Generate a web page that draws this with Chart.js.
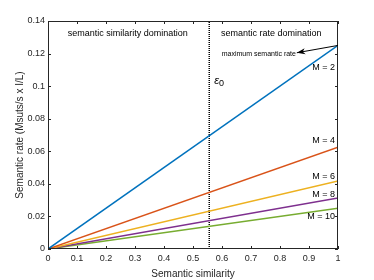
<!DOCTYPE html>
<html>
<head>
<meta charset="utf-8">
<script src="https://cdn.jsdelivr.net/npm/chart.js@4"></script>
<style>
  html, body { margin: 0; padding: 0; background: #fff; }
  #wrap { width: 374px; height: 280px; }
</style>
</head>
<body>
<div id="wrap"><canvas id="rateChart"></canvas></div>
<script>
// data
const similarity = [0, 1];
const seriesLabels = ['M = 2', 'M = 4', 'M = 6', 'M = 8', 'M = 10'];
const rateM2 = [0, 0.125];
const rateM4 = [0, 0.0625];
const rateM6 = [0, 0.0417];
const rateM8 = [0, 0.03125];
const rateM10 = [0, 0.025];
const seriesColors = ['#0072BD', '#D95319', '#EDB120', '#7E2F8E', '#77AC30'];
const epsilon0 = 0.556;
const xTicks = [0, 0.1, 0.2, 0.3, 0.4, 0.5, 0.6, 0.7, 0.8, 0.9, 1];
const yTicks = [0, 0.02, 0.04, 0.06, 0.08, 0.1, 0.12, 0.14];

const axisColor = '#262626';
const fontFamily = '"Liberation Sans", Arial, sans-serif';
const fmt = v => String(parseFloat(v.toFixed(2)));

const allRates = [rateM2, rateM4, rateM6, rateM8, rateM10];
const datasets = allRates.map((vals, i) => ({
    label: seriesLabels[i],
    data: similarity.map((x, j) => ({ x: x, y: vals[j] })),
    borderColor: seriesColors[i],
    borderWidth: 1.5,
    showLine: true,
    pointRadius: 0,
}));
datasets.push({
    label: 'epsilon0',
    data: [{ x: epsilon0, y: 0 }, { x: epsilon0, y: 0.14 }],
    borderColor: '#000',
    borderWidth: 1.5,
    borderDash: [1, 1],
    showLine: true,
    pointRadius: 0,
});

// MATLAB-ish box, inward ticks and text annotations
const decorations = {
    id: 'decorations',
    afterDraw(chart) {
        const { ctx, chartArea: a, scales: { x, y } } = chart;
        ctx.save();
        ctx.strokeStyle = axisColor;
        ctx.lineWidth = 1;
        ctx.strokeRect(a.left + 0.5, a.top + 0.5, a.right - a.left - 1, a.bottom - a.top - 1);
        ctx.beginPath();
        xTicks.forEach(v => {
            const px = Math.round(x.getPixelForValue(v)) + 0.5;
            ctx.moveTo(px, a.bottom); ctx.lineTo(px, a.bottom - 3);
            ctx.moveTo(px, a.top); ctx.lineTo(px, a.top + 3);
        });
        yTicks.forEach(v => {
            const py = Math.round(y.getPixelForValue(v)) + 0.5;
            ctx.moveTo(a.left, py); ctx.lineTo(a.left + 3, py);
            ctx.moveTo(a.right, py); ctx.lineTo(a.right - 3, py);
        });
        ctx.stroke();

        ctx.fillStyle = '#000';
        ctx.textBaseline = 'middle';
        ctx.font = '9px ' + fontFamily;
        ctx.textAlign = 'center';
        ctx.fillText('semantic similarity domination', x.getPixelForValue(0.275), y.getPixelForValue(0.1325));
        ctx.fillText('semantic rate domination', x.getPixelForValue(0.77), y.getPixelForValue(0.1325));

        ctx.font = '7px ' + fontFamily;
        ctx.textAlign = 'right';
        ctx.fillText('maximum semantic rate', x.getPixelForValue(0.855), y.getPixelForValue(0.1195));

        // arrow from the M=2 end point to the label
        const x0 = x.getPixelForValue(1), y0 = y.getPixelForValue(rateM2[1]);
        const x1 = x.getPixelForValue(0.858), y1 = y.getPixelForValue(0.1205);
        ctx.strokeStyle = '#000';
        ctx.beginPath(); ctx.moveTo(x0, y0); ctx.lineTo(x1, y1); ctx.stroke();
        const ang = Math.atan2(y1 - y0, x1 - x0);
        ctx.beginPath();
        ctx.moveTo(x1, y1);
        ctx.lineTo(x1 - 9 * Math.cos(ang - 0.35), y1 - 9 * Math.sin(ang - 0.35));
        ctx.lineTo(x1 - 6 * Math.cos(ang), y1 - 6 * Math.sin(ang));
        ctx.lineTo(x1 - 9 * Math.cos(ang + 0.35), y1 - 9 * Math.sin(ang + 0.35));
        ctx.closePath(); ctx.fill();

        // epsilon_0 label
        const ex = x.getPixelForValue(epsilon0) + 5, ey = y.getPixelForValue(0.103);
        ctx.textAlign = 'left';
        ctx.font = 'italic 11px ' + fontFamily;
        ctx.fillText('ε', ex, ey);
        const w = ctx.measureText('ε').width;
        ctx.font = '9px ' + fontFamily;
        ctx.fillText('0', ex + w, ey + 2);

        // series labels near the right edge
        ctx.font = '9px ' + fontFamily;
        ctx.textAlign = 'right';
        const labelY = [0.1115, 0.0665, 0.0443, 0.0333, 0.0197];
        labelY.forEach((v, i) => {
            ctx.fillText(seriesLabels[i], x.getPixelForValue(1) - 3, y.getPixelForValue(v));
        });
        ctx.restore();
    }
};

new Chart(document.getElementById('rateChart'), {
    type: 'scatter',
    data: { datasets: datasets },
    options: {
        responsive: true,
        maintainAspectRatio: false,
        animation: false,
        layout: { padding: { top: 21, right: 36, left: 14, bottom: 0 } },
        plugins: { legend: { display: false }, tooltip: { enabled: false } },
        scales: {
            x: {
                type: 'linear',
                min: 0, max: 1,
                afterBuildTicks: s => { s.ticks = xTicks.map(v => ({ value: v })); },
                afterFit: s => { s.height = 31; },
                grid: { display: false, drawTicks: false },
                border: { display: false },
                ticks: { color: axisColor, font: { family: fontFamily, size: 9 }, padding: 4, maxRotation: 0,
                         callback: fmt },
                title: { display: true, text: 'Semantic similarity', color: axisColor,
                         font: { family: fontFamily, size: 10 }, padding: { top: 1, bottom: 0 } },
            },
            y: {
                type: 'linear',
                min: 0, max: 0.14,
                afterBuildTicks: s => { s.ticks = yTicks.map(v => ({ value: v })); },
                afterFit: s => { s.width = 34; },
                grid: { display: false, drawTicks: false },
                border: { display: false },
                ticks: { color: axisColor, font: { family: fontFamily, size: 9 }, padding: 3,
                         callback: fmt },
                title: { display: true, text: 'Semantic rate (Msuts/s x I/L)', color: axisColor,
                         font: { family: fontFamily, size: 10 }, padding: { top: 0, bottom: 2 } },
            },
        },
    },
    plugins: [decorations],
});
</script>
</body>
</html>
